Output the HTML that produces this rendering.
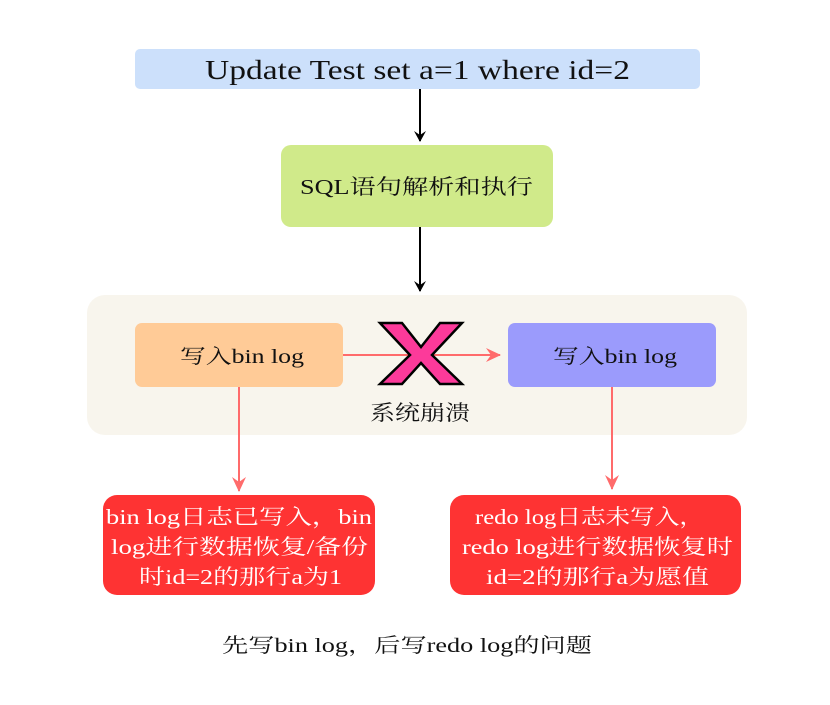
<!DOCTYPE html>
<html><head><meta charset="utf-8"><style>
body{margin:0;background:#fff;}
svg text{font-family:"Liberation Serif","Noto Serif CJK SC",serif;}
</style></head><body>
<svg width="830" height="700" xmlns="http://www.w3.org/2000/svg">
<defs>
<marker id="ab" markerWidth="12" markerHeight="12" refX="10" refY="6" orient="auto" markerUnits="userSpaceOnUse"><path d="M0,0 L11,6 L0,12 L4,6 Z" fill="#000"/></marker>
<marker id="ar" markerWidth="16" markerHeight="16" refX="14" refY="8" orient="auto" markerUnits="userSpaceOnUse"><path d="M0,1 L15,8 L0,15 L5,8 Z" fill="#ff6b6b"/></marker>
</defs>
<rect x="135" y="49" width="565" height="40" rx="5" fill="#cce0fb"/>
<text x="205" y="79" font-size="27" textLength="425" lengthAdjust="spacingAndGlyphs" fill="#111">Update Test set a=1 where id=2</text>
<line x1="420" y1="89" x2="420" y2="141" stroke="#000" stroke-width="2" marker-end="url(#ab)"/>
<rect x="281" y="145" width="272" height="82" rx="10" fill="#d0ea8a"/>
<text x="300" y="194" font-size="21" textLength="233" lengthAdjust="spacingAndGlyphs" fill="#111">SQL语句解析和执行</text>
<line x1="420" y1="227" x2="420" y2="291" stroke="#000" stroke-width="2" marker-end="url(#ab)"/>
<rect x="87" y="295" width="660" height="140" rx="18" fill="#f8f5ed"/>
<rect x="135" y="323" width="208" height="64" rx="7" fill="#ffcb97"/>
<text x="180" y="363" font-size="20" textLength="124" lengthAdjust="spacingAndGlyphs" fill="#111">写入bin log</text>
<rect x="508" y="323" width="208" height="64" rx="7" fill="#9b9bfc"/>
<text x="553" y="363" font-size="20" textLength="124" lengthAdjust="spacingAndGlyphs" fill="#111">写入bin log</text>
<line x1="343" y1="355" x2="500" y2="355" stroke="#ff6b6b" stroke-width="2" marker-end="url(#ar)"/>
<path d="M380,323 L402,323 L421,347 L440,323 L462,323 L432,355 L462,384 L440,384 L421,363 L402,384 L380,384 L410,355 Z" fill="#fc3a9a" stroke="#000" stroke-width="2.5" stroke-linejoin="miter"/>
<text x="370" y="420" font-size="21" textLength="100" lengthAdjust="spacingAndGlyphs" fill="#111">系统崩溃</text>
<line x1="239" y1="387" x2="239" y2="491" stroke="#ff6b6b" stroke-width="2" marker-end="url(#ar)"/>
<line x1="612" y1="387" x2="612" y2="489" stroke="#ff6b6b" stroke-width="2" marker-end="url(#ar)"/>
<rect x="103" y="495" width="272" height="100" rx="14" fill="#fe3333"/>
<g font-size="21" fill="#fff">
<text x="106" y="524" textLength="266" lengthAdjust="spacingAndGlyphs">bin log日志已写入，bin</text>
<text x="111" y="554" textLength="257" lengthAdjust="spacingAndGlyphs">log进行数据恢复/备份</text>
<text x="139" y="584" textLength="203" lengthAdjust="spacingAndGlyphs">时id=2的那行a为1</text>
</g>
<rect x="450" y="495" width="291" height="100" rx="14" fill="#fe3333"/>
<g font-size="21" fill="#fff">
<text x="475" y="524" textLength="229" lengthAdjust="spacingAndGlyphs">redo log日志未写入，</text>
<text x="462" y="554" textLength="271" lengthAdjust="spacingAndGlyphs">redo log进行数据恢复时</text>
<text x="486" y="584" textLength="223" lengthAdjust="spacingAndGlyphs">id=2的那行a为愿值</text>
</g>
<text x="222" y="652" font-size="20" textLength="370" lengthAdjust="spacingAndGlyphs" fill="#111">先写bin log，后写redo log的问题</text>
</svg>
</body></html>
